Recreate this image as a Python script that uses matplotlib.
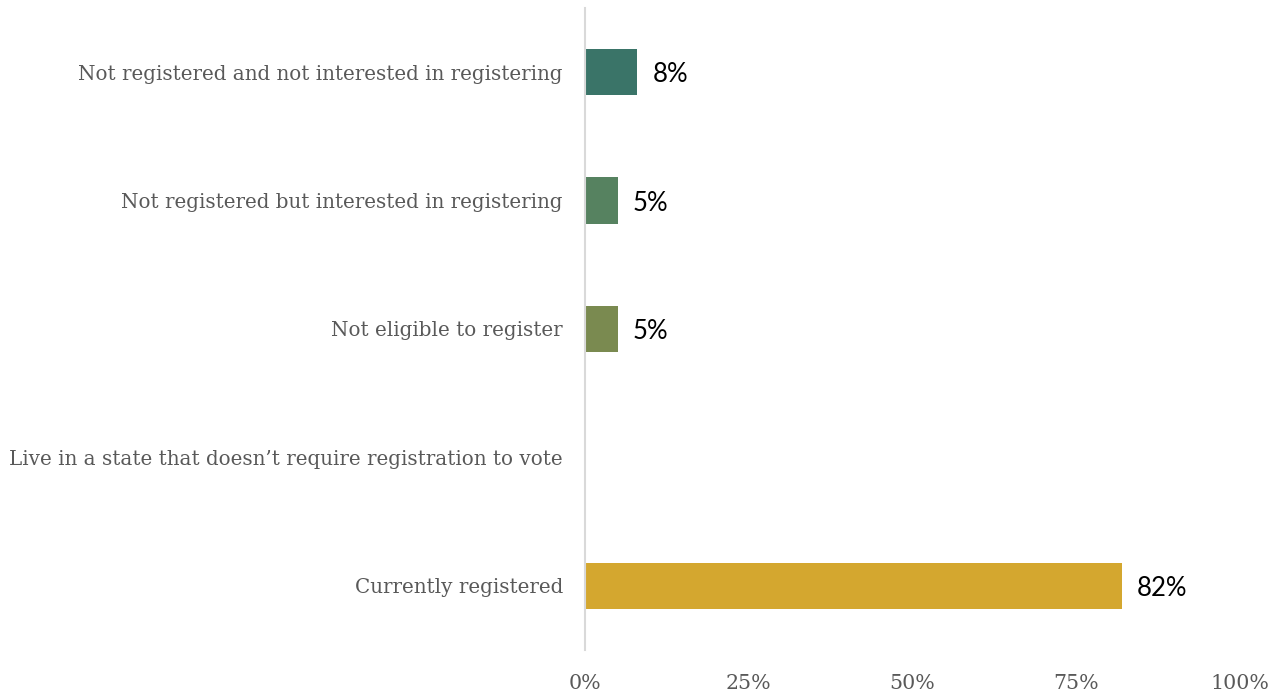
import matplotlib
matplotlib.use("Agg")
import matplotlib.pyplot as plt

categories = [
    "Currently registered",
    "Live in a state that doesn\u2019t require registration to vote",
    "Not eligible to register",
    "Not registered but interested in registering",
    "Not registered and not interested in registering",
]
values = [82, 0, 5, 5, 8]
colors = ["#D4A72F", "#FFFFFF", "#7A8A50", "#568260", "#3A7468"]
xticks = [0, 25, 50, 75, 100]
xticklabels = ["0%", "25%", "50%", "75%", "100%"]

fig = plt.figure(figsize=(12.78, 6.96), dpi=100)
ax = fig.add_axes([585/1278, 1-650/696, (1240-585)/1278, 642/696])

y = list(range(len(categories)))
ax.barh(y, values, height=0.36, color=colors)
for yi, v in zip(y, values):
    if v > 0:
        ax.text(v + 2.3, yi - 0.02, f"{v}%", va="center", ha="left",
                fontsize=18.5, family="Lato", color="black")

ax.set_xlim(0, 100)
ax.set_ylim(-0.5, len(categories) - 0.5)
ax.set_yticks(y)
ax.set_yticklabels(categories, family="DejaVu Serif", fontsize=14.3, color="#595959")
ax.set_xticks(xticks)
ax.set_xticklabels(xticklabels, family="DejaVu Serif", fontsize=14.8, color="#595959")
ax.tick_params(axis="both", length=0)
ax.tick_params(axis="y", pad=16)
ax.tick_params(axis="x", pad=17)
for s in ["top", "right", "bottom"]:
    ax.spines[s].set_visible(False)
ax.spines["left"].set_color("#D9D9D9")
ax.spines["left"].set_linewidth(1.5)

fig.savefig("out.png", dpi=100)
